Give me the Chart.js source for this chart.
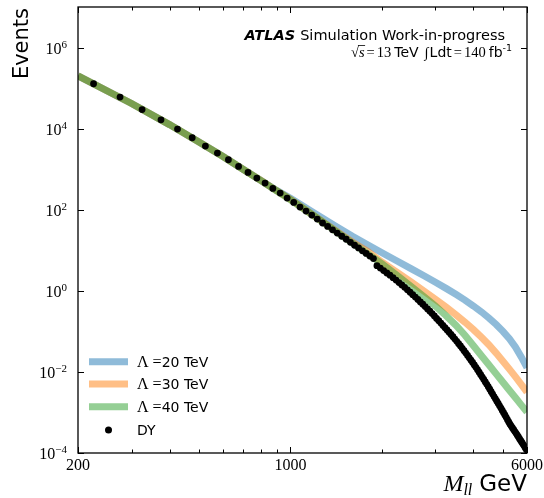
<!DOCTYPE html>
<html>
<head>
<meta charset="utf-8">
<script src="https://cdn.jsdelivr.net/npm/chart.js@4.4.1/dist/chart.umd.min.js"></script>
<style>
  body { margin: 0; background: #fff; }
</style>
</head>
<body>
<canvas id="chart" width="544" height="498"></canvas>
<script>
// DY prediction, 50 GeV bins (bin centres in GeV)
var dyMass = [225, 275, 325, 375, 425, 475, 525, 575, 625, 675, 725, 775, 825, 875, 925, 975,
  1025, 1075, 1125, 1175, 1225, 1275, 1325, 1375, 1425, 1475, 1525, 1575, 1625, 1675, 1725, 1775,
  1825, 1875, 1925, 1975, 2025, 2075, 2125, 2175, 2225, 2275, 2325, 2375, 2425, 2475, 2525, 2575,
  2625, 2675, 2725, 2775, 2825, 2875, 2925, 2975, 3025, 3075, 3125, 3175, 3225, 3275, 3325, 3375,
  3425, 3475, 3525, 3575, 3625, 3675, 3725, 3775, 3825, 3875, 3925, 3975, 4025, 4075, 4125, 4175,
  4225, 4275, 4325, 4375, 4425, 4475, 4525, 4575, 4625, 4675, 4725, 4775, 4825, 4875, 4925, 4975,
  5025, 5075, 5125, 5175, 5225, 5275, 5325, 5375, 5425, 5475, 5525, 5575, 5625, 5675, 5725, 5775,
  5825, 5875, 5925, 5975];
var dyEvents = [128000, 60000, 29600, 16500, 9750, 5960, 3720, 2490, 1710, 1170, 830, 604, 455, 335, 258, 194,
  151, 116, 92.7, 74.0, 58.9, 47.0, 38.7, 32.0, 26.6, 22.2, 18.7, 15.7, 13.3, 11.4, 9.70, 8.34,
  7.19, 6.24, 4.17, 3.63, 3.16, 2.75, 2.43, 2.11, 1.84, 1.60, 1.40, 1.22, 1.06, 0.923, 0.804, 0.700,
  0.610, 0.533, 0.467, 0.408, 0.357, 0.313, 0.274, 0.239, 0.209, 0.183, 0.160, 0.140, 0.123, 0.108, 0.0953, 0.0838,
  0.0736, 0.0647, 0.0569, 0.0498, 0.0436, 0.0381, 0.0333, 0.0292, 0.0255, 0.0223, 0.0195, 0.0171, 0.0149, 0.0130, 0.0113, 0.00984,
  0.00857, 0.00746, 0.00650, 0.00566, 0.00493, 0.00430, 0.00374, 0.00326, 0.00284, 0.00247, 0.00217, 0.00190, 0.00167, 0.00146, 0.00128, 0.00112,
  0.000986, 0.000865, 0.000759, 0.000665, 0.000583, 0.000512, 0.000461, 0.000416, 0.000375, 0.000338, 0.000305, 0.000275, 0.000248, 0.000223, 0.000201, 0.000182,
  0.000164, 0.000148, 0.000133, 0.000120];

// contact interaction curves
var lineMass = [200, 300, 400, 500, 600, 700, 800, 900, 1000, 1200, 1400, 1600, 1800, 2000, 2250,
  2500, 2750, 3000, 3250, 3500, 3750, 4000, 4250, 4500, 4750, 5000, 5250, 5500, 5750, 6000];
var lambda20 = [200000, 41700, 12600, 4700, 2060, 985, 528, 300, 192, 81.9, 40.3, 22.2, 13.5, 8.70, 5.37,
  3.49, 2.36, 1.63, 1.15, 0.820, 0.590, 0.422, 0.302, 0.213, 0.148, 0.100, 0.0656, 0.0407, 0.0231, 0.0127];
var lambda30 = [200000, 41700, 12600, 4700, 2060, 983, 524, 296, 180, 69.8, 31.6, 15.8, 9.20, 5.07, 2.79,
  1.63, 0.989, 0.617, 0.396, 0.257, 0.168, 0.110, 0.0714, 0.0461, 0.0291, 0.0184, 0.0117, 0.00753, 0.00487, 0.00316];
var lambda40 = [200000, 41700, 12600, 4700, 2060, 982, 522, 294, 176, 69.0, 30.7, 14.9, 7.99, 4.66, 2.36,
  1.26, 0.715, 0.417, 0.243, 0.142, 0.0804, 0.0443, 0.0251, 0.0148, 0.00893, 0.00555, 0.00352, 0.00230, 0.00152, 0.00103];

var lambdaLabels = ['20 TeV', '30 TeV', '40 TeV'];
var xMajorTicks = [200, 1000, 6000];
var xTickLabels = ['200', '1000', '6000'];
var xMinorTicks = [300, 400, 500, 600, 700, 800, 900, 2000, 3000, 4000, 5000];
var yTicks = [1e-4, 1e-2, 1, 1e2, 1e4, 1e6];
var yTickExps = ['\u22124', '\u22122', '0', '2', '4', '6'];

var SANS = "'DejaVu Sans', sans-serif";
var SERIF = "'Liberation Serif', 'DejaVu Serif', serif";

function toPoints(xs, ys) {
    var pts = [];
    for (var i = 0; i < xs.length; i++) pts.push({x: xs[i], y: ys[i]});
    return pts;
}

function lineSet(label, values, color, order) {
    return {
        label: label,
        data: toPoints(lineMass, values),
        borderColor: color,
        backgroundColor: color,
        borderWidth: 7,
        pointRadius: 0,
        tension: 0,
        fill: false,
        clip: 0,
        order: order
    };
}

// draw text pieces one after another, returns end x
function runs(ctx, x, y, parts, measureOnly) {
    var cx = x;
    parts.forEach(function (p) {
        ctx.font = p.f;
        if (!measureOnly) ctx.fillText(p.t, cx, y + (p.dy || 0));
        p.x0 = cx;
        cx += ctx.measureText(p.t).width + (p.gap || 0);
        p.x1 = cx;
    });
    return cx;
}

function runsRight(ctx, xr, y, parts) {
    var w = runs(ctx, 0, y, parts, true);
    runs(ctx, xr - w, y, parts, false);
    return xr - w;
}

var decor = {
    id: 'decor',
    afterDraw: function (chart) {
        var ctx = chart.ctx, a = chart.chartArea;
        var xs = chart.scales.x, ys = chart.scales.y;
        ctx.save();
        ctx.strokeStyle = '#000';
        ctx.fillStyle = '#000';
        ctx.lineWidth = 1.3;
        ctx.strokeRect(a.left, a.top, a.right - a.left, a.bottom - a.top);

        ctx.lineWidth = 1;
        ctx.beginPath();
        xMinorTicks.forEach(function (v) {
            var px = Math.round(xs.getPixelForValue(v)) + 0.5;
            ctx.moveTo(px, a.bottom); ctx.lineTo(px, a.bottom - 3.5);
            ctx.moveTo(px, a.top); ctx.lineTo(px, a.top + 3.5);
        });
        xMajorTicks.forEach(function (v) {
            var px = Math.round(xs.getPixelForValue(v)) + 0.5;
            ctx.moveTo(px, a.bottom); ctx.lineTo(px, a.bottom - 6);
            ctx.moveTo(px, a.top); ctx.lineTo(px, a.top + 6);
        });
        yTicks.forEach(function (v) {
            var py = Math.round(ys.getPixelForValue(v)) + 0.5;
            ctx.moveTo(a.left, py); ctx.lineTo(a.left + 6, py);
            ctx.moveTo(a.right, py); ctx.lineTo(a.right - 6, py);
        });
        ctx.stroke();

        // tick labels
        ctx.textBaseline = 'alphabetic';
        ctx.font = '16px ' + SERIF;
        ctx.textAlign = 'center';
        xMajorTicks.forEach(function (v, i) {
            ctx.fillText(xTickLabels[i], xs.getPixelForValue(v), a.bottom + 17);
        });
        ctx.textAlign = 'left';
        yTicks.forEach(function (v, i) {
            var py = ys.getPixelForValue(v);
            runsRight(ctx, 67, py + 6, [
                {t: '10', f: '16px ' + SERIF},
                {t: yTickExps[i], f: '11px ' + SERIF, dy: -6}
            ]);
        });

        // axis titles
        ctx.save();
        ctx.translate(28, 8);
        ctx.rotate(-Math.PI / 2);
        ctx.textAlign = 'right';
        ctx.font = '21px ' + SANS;
        ctx.fillText('Events', 0, 0);
        ctx.restore();
        runsRight(ctx, 527, 491, [
            {t: 'M', f: 'italic 24px ' + SERIF},
            {t: 'll', f: 'italic 16px ' + SERIF, dy: 4, gap: 7},
            {t: 'GeV', f: '23px ' + SANS}
        ]);

        // ATLAS label
        runsRight(ctx, 505, 40, [
            {t: 'ATLAS', f: 'italic bold 14.5px ' + SANS, gap: 5},
            {t: 'Simulation Work-in-progress', f: '14.5px ' + SANS}
        ]);
        var ser = '14.5px ' + SERIF, sans = '14px ' + SANS;
        var line2 = [
            {t: '\u221A', f: ser},
            {t: 's', f: 'italic ' + ser, gap: 2},
            {t: '=', f: ser, gap: 2},
            {t: '13', f: ser, gap: 3},
            {t: 'TeV', f: sans, gap: 6},
            {t: '\u222B', f: 'italic ' + ser, gap: 1},
            {t: 'Ldt', f: sans, gap: 2},
            {t: '=', f: ser, gap: 2},
            {t: '140', f: ser, gap: 3},
            {t: 'fb', f: sans},
            {t: '-1', f: '9.5px ' + SANS, dy: -6}
        ];
        runsRight(ctx, 512, 57, line2);
        ctx.lineWidth = 0.8;
        ctx.beginPath();
        ctx.moveTo(line2[0].x1 - 1, 45.5);
        ctx.lineTo(line2[1].x1 - 1.5, 45.5);
        ctx.stroke();

        // legend
        var ds = chart.data.datasets;
        var rows = [361.7, 384, 406.7, 430];
        ctx.lineCap = 'butt';
        for (var i = 0; i < 3; i++) {
            ctx.strokeStyle = ds[i].borderColor;
            ctx.lineWidth = 7;
            ctx.beginPath();
            ctx.moveTo(89, rows[i]);
            ctx.lineTo(128, rows[i]);
            ctx.stroke();
            runs(ctx, 137, rows[i] + 5, [
                {t: '\u039B', f: '16px ' + SERIF, gap: 4},
                {t: '=', f: '16px ' + SERIF},
                {t: lambdaLabels[i], f: '14px ' + SANS}
            ]);
        }
        ctx.fillStyle = '#000';
        ctx.beginPath();
        ctx.arc(108.5, rows[3], 3.5, 0, Math.PI * 2);
        ctx.fill();
        ctx.font = '14px ' + SANS;
        ctx.fillText(ds[3].label, 137, rows[3] + 5);
        ctx.restore();
    }
};

var ctx = document.getElementById('chart').getContext('2d');
new Chart(ctx, {
    type: 'line',
    data: {
        datasets: [
            lineSet('\u039B =20 TeV', lambda20, 'rgba(31,119,180,0.5)', 4),
            lineSet('\u039B =30 TeV', lambda30, 'rgba(255,127,14,0.5)', 3),
            lineSet('\u039B =40 TeV', lambda40, 'rgba(44,160,44,0.5)', 2),
            {
                label: 'DY',
                data: toPoints(dyMass, dyEvents),
                showLine: false,
                pointRadius: 3.4,
                pointBorderWidth: 0,
                pointBackgroundColor: '#000',
                backgroundColor: '#000',
                borderColor: '#000',
                clip: 0,
                order: 1
            }
        ]
    },
    options: {
        responsive: false,
        animation: false,
        devicePixelRatio: 1,
        layout: {padding: {left: 78, right: 17, top: 7, bottom: 45}},
        plugins: {legend: {display: false}, tooltip: {enabled: false}},
        scales: {
            x: {type: 'logarithmic', min: 200, max: 6000, display: false},
            y: {type: 'logarithmic', min: 1e-4, max: 1e7, display: false}
        }
    },
    plugins: [decor]
});
</script>
</body>
</html>
